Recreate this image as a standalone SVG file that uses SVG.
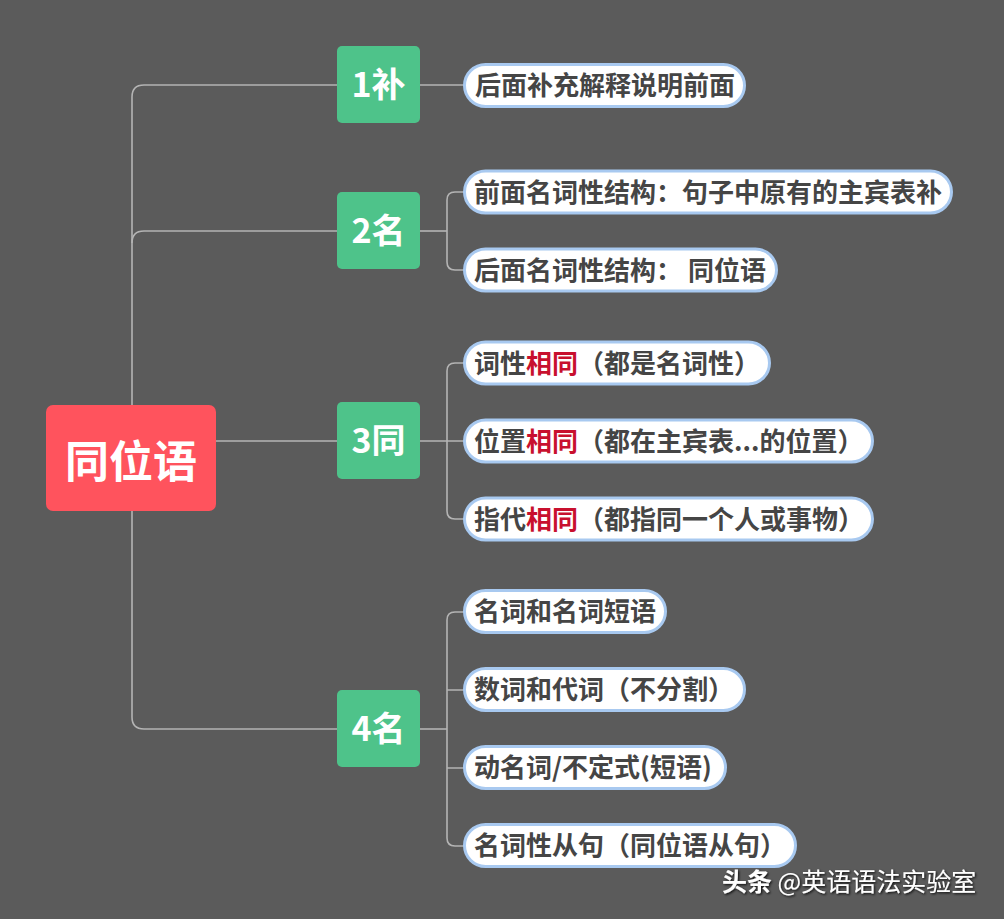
<svg xmlns="http://www.w3.org/2000/svg" width="1004" height="919" viewBox="0 0 1004 919">
<style>
text{text-spacing-trim:space-all}
.line{fill:none;stroke:#b4b4b4;stroke-width:1.6}
.root{fill:#ff535d}
.mid{fill:#4ec38a}
.leaf{fill:#ffffff;stroke:#a8c9f0;stroke-width:3}
.rt{font-family:"Noto Sans CJK SC","Liberation Sans",sans-serif;font-weight:700;font-size:44px;fill:#ffffff;text-anchor:middle}
.mt{font-family:"Noto Sans CJK SC","Liberation Sans",sans-serif;font-weight:700;font-size:34px;fill:#ffffff;text-anchor:middle}
.lt{font-family:"Noto Sans CJK SC","Liberation Sans",sans-serif;font-weight:700;font-size:26px;fill:#454545}
.red{fill:#c8102e}
.wm{font-family:"Noto Sans CJK SC","Liberation Sans",sans-serif;font-size:25px;fill:#ffffff}
</style>
<defs>
<filter id="sh" x="-10%" y="-30%" width="120%" height="160%">
<feDropShadow dx="1.2" dy="1.2" stdDeviation="0.8" flood-color="#000" flood-opacity="0.85"/>
</filter>
</defs>
<rect x="0" y="0" width="1004" height="919" fill="#5b5b5b"/>
<g id="connectors">
<path class="line" d="M337,85 H144 Q132,85 132,97 V405"/>
<path class="line" d="M132,243 Q132,231 144,231 H337"/>
<path class="line" d="M216,441 H337"/>
<path class="line" d="M132,511 V717 Q132,729 144,729 H337"/>
<path class="line" d="M420,85 H464"/>
<path class="line" d="M420,231 H447"/>
<path class="line" d="M464,192 H455 Q447,192 447,200 V262 Q447,270 455,270 H464"/>
<path class="line" d="M420,441 H464"/>
<path class="line" d="M464,363 H455 Q447,363 447,371 V511 Q447,519 455,519 H464"/>
<path class="line" d="M420,729 H447"/>
<path class="line" d="M464,612 H455 Q447,612 447,620 V838 Q447,846 455,846 H464"/>
<path class="line" d="M447,690 H464 M447,768 H464"/>
</g>
<g id="root">
<rect class="root" x="46" y="405" width="170" height="106" rx="7"/>
<text class="rt" x="131" y="478">同位语</text>
</g>
<g id="n1">
<rect class="mid" x="337" y="46" width="83" height="77" rx="5"/>
<text class="mt" x="378.5" y="97">1补</text>
</g>
<g id="n2">
<rect class="mid" x="337" y="192" width="83" height="77" rx="5"/>
<text class="mt" x="378.5" y="243">2名</text>
</g>
<g id="n3">
<rect class="mid" x="337" y="402" width="83" height="77" rx="5"/>
<text class="mt" x="378.5" y="453">3同</text>
</g>
<g id="n4">
<rect class="mid" x="337" y="690" width="83" height="77" rx="5"/>
<text class="mt" x="378.5" y="741">4名</text>
</g>
<g id="l1">
<rect class="leaf" x="464.5" y="64.5" width="280" height="42" rx="21"/>
<text class="lt" x="475" y="95">后面补充解释说明前面</text>
</g>
<g id="l2a">
<rect class="leaf" x="464.5" y="171" width="487" height="42" rx="21"/>
<text class="lt" x="474" y="201.5">前面名词性结构：句子中原有的主宾表补</text>
</g>
<g id="l2b">
<rect class="leaf" x="464.5" y="249" width="312" height="42" rx="21"/>
<text class="lt" x="474" y="279.5">后面名词性结构： 同位语</text>
</g>
<g id="l3a">
<rect class="leaf" x="464.5" y="342" width="305" height="42" rx="21"/>
<text class="lt" x="474" y="372.5">词性<tspan class="red">相同</tspan>（都是名词性）</text>
</g>
<g id="l3b">
<rect class="leaf" x="464.5" y="420" width="408" height="42" rx="21"/>
<text class="lt" x="474" y="450.5">位置<tspan class="red">相同</tspan>（都在主宾表...的位置）</text>
</g>
<g id="l3c">
<rect class="leaf" x="464.5" y="498" width="408" height="42" rx="21"/>
<text class="lt" x="474" y="528.5">指代<tspan class="red">相同</tspan>（都指同一个人或事物）</text>
</g>
<g id="l4a">
<rect class="leaf" x="464.5" y="590.5" width="201" height="42" rx="21"/>
<text class="lt" x="474" y="621">名词和名词短语</text>
</g>
<g id="l4b">
<rect class="leaf" x="464.5" y="668.5" width="280" height="42" rx="21"/>
<text class="lt" x="474" y="699">数词和代词（不分割）</text>
</g>
<g id="l4c">
<rect class="leaf" x="464.5" y="746.5" width="261" height="42" rx="21"/>
<text class="lt" x="474" y="777">动名词/不定式(短语)</text>
</g>
<g id="l4d">
<rect class="leaf" x="464.5" y="824.5" width="331" height="42" rx="21"/>
<text class="lt" x="474" y="855">名词性从句（同位语从句）</text>
</g>
<text class="wm" x="722" y="891" filter="url(#sh)"><tspan font-weight="700">头条</tspan> @英语语法实验室</text>
</svg>
